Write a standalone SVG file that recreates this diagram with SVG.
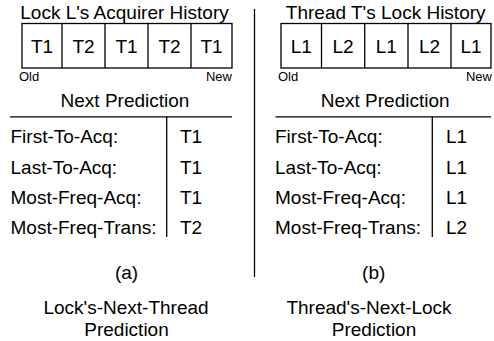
<svg xmlns="http://www.w3.org/2000/svg" width="494" height="341" viewBox="0 0 494 341">
<style>
text{font-family:"Liberation Sans",Arial,Helvetica,sans-serif;fill:#000}
.t{font-size:19px}
.s{font-size:13px}
.m{text-anchor:middle}
.e{text-anchor:end}
.ln{stroke:#000;stroke-width:1.3;fill:none}
</style>
<rect width="494" height="341" fill="#fff"/>
<g id="panel-a">
<g id="history-a">
<text class="t m" x="124.5" y="18.5">Lock L's Acquirer History</text>
<rect class="ln" x="22" y="23.5" width="210" height="44.5"/>
<line class="ln" x1="62" y1="23.5" x2="62" y2="68"/>
<line class="ln" x1="105" y1="23.5" x2="105" y2="68"/>
<line class="ln" x1="148" y1="23.5" x2="148" y2="68"/>
<line class="ln" x1="191" y1="23.5" x2="191" y2="68"/>
<text class="t m" x="42" y="53">T1</text>
<text class="t m" x="83.5" y="53">T2</text>
<text class="t m" x="126.5" y="53">T1</text>
<text class="t m" x="169.5" y="53">T2</text>
<text class="t m" x="211.5" y="53">T1</text>
<text class="s" x="19" y="80.5">Old</text>
<text class="s e" x="232" y="80.5">New</text>
</g>
<g id="table-a">
<text class="t m" x="125" y="106.5">Next Prediction</text>
<line class="ln" x1="10" y1="116.8" x2="232" y2="116.8"/>
<line class="ln" x1="166.7" y1="116.8" x2="166.7" y2="237"/>
<text class="t" x="10.5" y="143.3">First-To-Acq:</text>
<text class="t" x="10.5" y="173.6">Last-To-Acq:</text>
<text class="t" x="10.5" y="204">Most-Freq-Acq:</text>
<text class="t" x="10.5" y="234.3">Most-Freq-Trans:</text>
<text class="t" x="180" y="143.3">T1</text>
<text class="t" x="180" y="173.6">T1</text>
<text class="t" x="180" y="204">T1</text>
<text class="t" x="180" y="234.3">T2</text>
</g>
<text class="t m" x="126.5" y="278.5">(a)</text>
<text class="t m" x="126" y="313.5">Lock's-Next-Thread</text>
<text class="t m" x="126.5" y="336">Prediction</text>
</g>
<g id="divider">
<line class="ln" x1="254.5" y1="9" x2="254.5" y2="277"/>
</g>
<g id="panel-b">
<g id="history-b">
<text class="t m" x="385.7" y="18.5">Thread T's Lock History</text>
<rect class="ln" x="281" y="23.5" width="210" height="44.5"/>
<line class="ln" x1="321.5" y1="23.5" x2="321.5" y2="68"/>
<line class="ln" x1="364.7" y1="23.5" x2="364.7" y2="68"/>
<line class="ln" x1="408" y1="23.5" x2="408" y2="68"/>
<line class="ln" x1="451" y1="23.5" x2="451" y2="68"/>
<text class="t m" x="301.2" y="53">L1</text>
<text class="t m" x="343.1" y="53">L2</text>
<text class="t m" x="386.3" y="53">L1</text>
<text class="t m" x="429.5" y="53">L2</text>
<text class="t m" x="471" y="53">L1</text>
<text class="s" x="278" y="80.5">Old</text>
<text class="s e" x="492" y="80.5">New</text>
</g>
<g id="table-b">
<text class="t m" x="385.2" y="106.5">Next Prediction</text>
<line class="ln" x1="275.5" y1="116.8" x2="491" y2="116.8"/>
<line class="ln" x1="432.3" y1="116.8" x2="432.3" y2="237"/>
<text class="t" x="275" y="143.3">First-To-Acq:</text>
<text class="t" x="275" y="173.6">Last-To-Acq:</text>
<text class="t" x="275" y="204">Most-Freq-Acq:</text>
<text class="t" x="275" y="234.3">Most-Freq-Trans:</text>
<text class="t" x="446" y="143.3">L1</text>
<text class="t" x="446" y="173.6">L1</text>
<text class="t" x="446" y="204">L1</text>
<text class="t" x="446" y="234.3">L2</text>
</g>
<text class="t m" x="373.7" y="278.5">(b)</text>
<text class="t m" x="369" y="313.5">Thread's-Next-Lock</text>
<text class="t m" x="374" y="336">Prediction</text>
</g>
</svg>
